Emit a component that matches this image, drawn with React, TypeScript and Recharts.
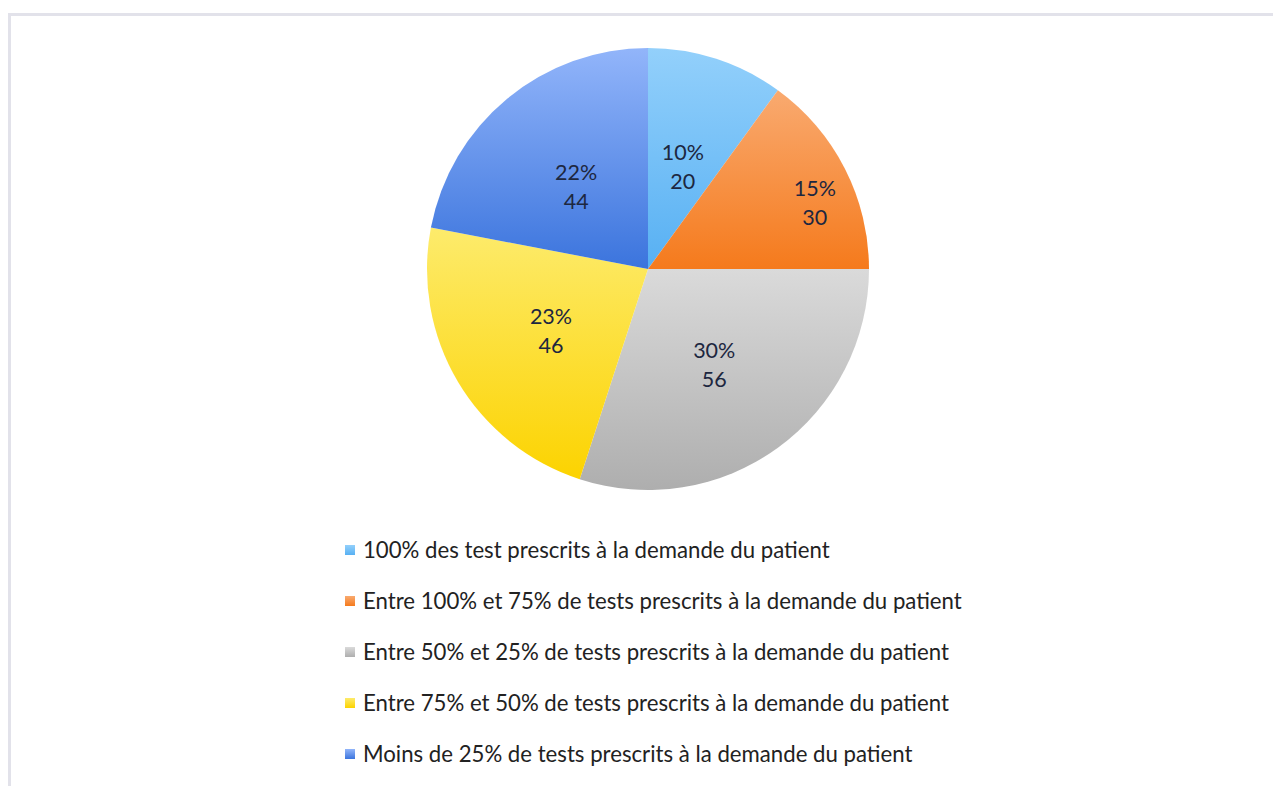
import React from 'react';
import { PieChart, Pie, Cell, Legend } from 'recharts';

const categories = [
  '100% des test prescrits à la demande du patient',
  'Entre 100% et 75% de tests prescrits à la demande du patient',
  'Entre 50% et 25% de tests prescrits à la demande du patient',
  'Entre 75% et 50% de tests prescrits à la demande du patient',
  'Moins de 25% de tests prescrits à la demande du patient',
];
const percents = [10, 15, 30, 23, 22];
const counts = [20, 30, 56, 46, 44];

// top / bottom colour of each slice gradient
const gradientTop = ['#93d0fb', '#f9aa70', '#dadada', '#fdeb6c', '#92b5fa'];
const gradientBottom = ['#57b0f3', '#f57a1c', '#aeaeae', '#fcd300', '#3b74dd'];

const data = categories.map((name, i) => ({
  name,
  percent: percents[i],
  count: counts[i],
}));

const FONT = 'Lato, "Open Sans", sans-serif';
const RADIAN = Math.PI / 180;

function renderLabel(props: any) {
  const { cx, cy, midAngle, outerRadius, index } = props;
  // the orange label sits further out, like Excel's best-fit placement
  const outer = index === 1;
  const r = outerRadius * (outer ? 0.82 : 0.51);
  const angle = outer ? midAngle - 4 : midAngle;
  const x = cx + r * Math.cos(-angle * RADIAN);
  const y = cy + r * Math.sin(-angle * RADIAN);
  return (
    <text
      x={x}
      y={y}
      textAnchor="middle"
      fill="#1d2740"
      fontFamily={FONT}
      fontSize={21.5}
    >
      <tspan x={x} dy={-2}>{`${percents[index]}%`}</tspan>
      <tspan x={x} dy={29}>{counts[index]}</tspan>
    </text>
  );
}

function renderLegend() {
  return (
    <div style={{ fontFamily: FONT, fontSize: 22.2, color: '#222' }}>
      {categories.map((name, i) => (
        <div
          key={name}
          style={{ display: 'flex', alignItems: 'center', height: 51, whiteSpace: 'nowrap' }}
        >
          <span
            style={{
              display: 'inline-block',
              width: 10,
              height: 10,
              marginRight: 8,
              background: `linear-gradient(${gradientTop[i]}, ${gradientBottom[i]})`,
            }}
          />
          <span>{name}</span>
        </div>
      ))}
    </div>
  );
}

export default function App() {
  return (
    <div
      style={{
        position: 'absolute',
        left: 0,
        top: 0,
        width: 1273,
        height: 786,
        background: '#fff',
        overflow: 'hidden',
      }}
    >
      <div
        style={{
          position: 'absolute',
          left: 8,
          top: 13,
          width: 1300,
          height: 800,
          borderTop: '3px solid #e2e2ea',
          borderLeft: '3px solid #e2e2ea',
        }}
      />
      <div style={{ position: 'absolute', left: 0, top: 0 }}>
        <PieChart width={1273} height={786} margin={{ top: 0, right: 0, bottom: 0, left: 0 }}>
          <defs>
            {gradientTop.map((c, i) => (
              <linearGradient key={i} id={`slice${i}`} x1="0" y1="0" x2="0" y2="1">
                <stop offset="0%" stopColor={c} />
                <stop offset="100%" stopColor={gradientBottom[i]} />
              </linearGradient>
            ))}
          </defs>
          <Pie
            data={data}
            dataKey="percent"
            nameKey="name"
            cx={648}
            cy={269}
            outerRadius={221}
            startAngle={90}
            endAngle={-270}
            stroke="none"
            label={renderLabel}
            labelLine={false}
            isAnimationActive={false}
          >
            {data.map((d, i) => (
              <Cell key={d.name} fill={`url(#slice${i})`} />
            ))}
          </Pie>
          <Legend
            content={renderLegend}
            wrapperStyle={{ position: 'absolute', left: 345, top: 524, width: 760 }}
          />
        </PieChart>
      </div>
    </div>
  );
}
